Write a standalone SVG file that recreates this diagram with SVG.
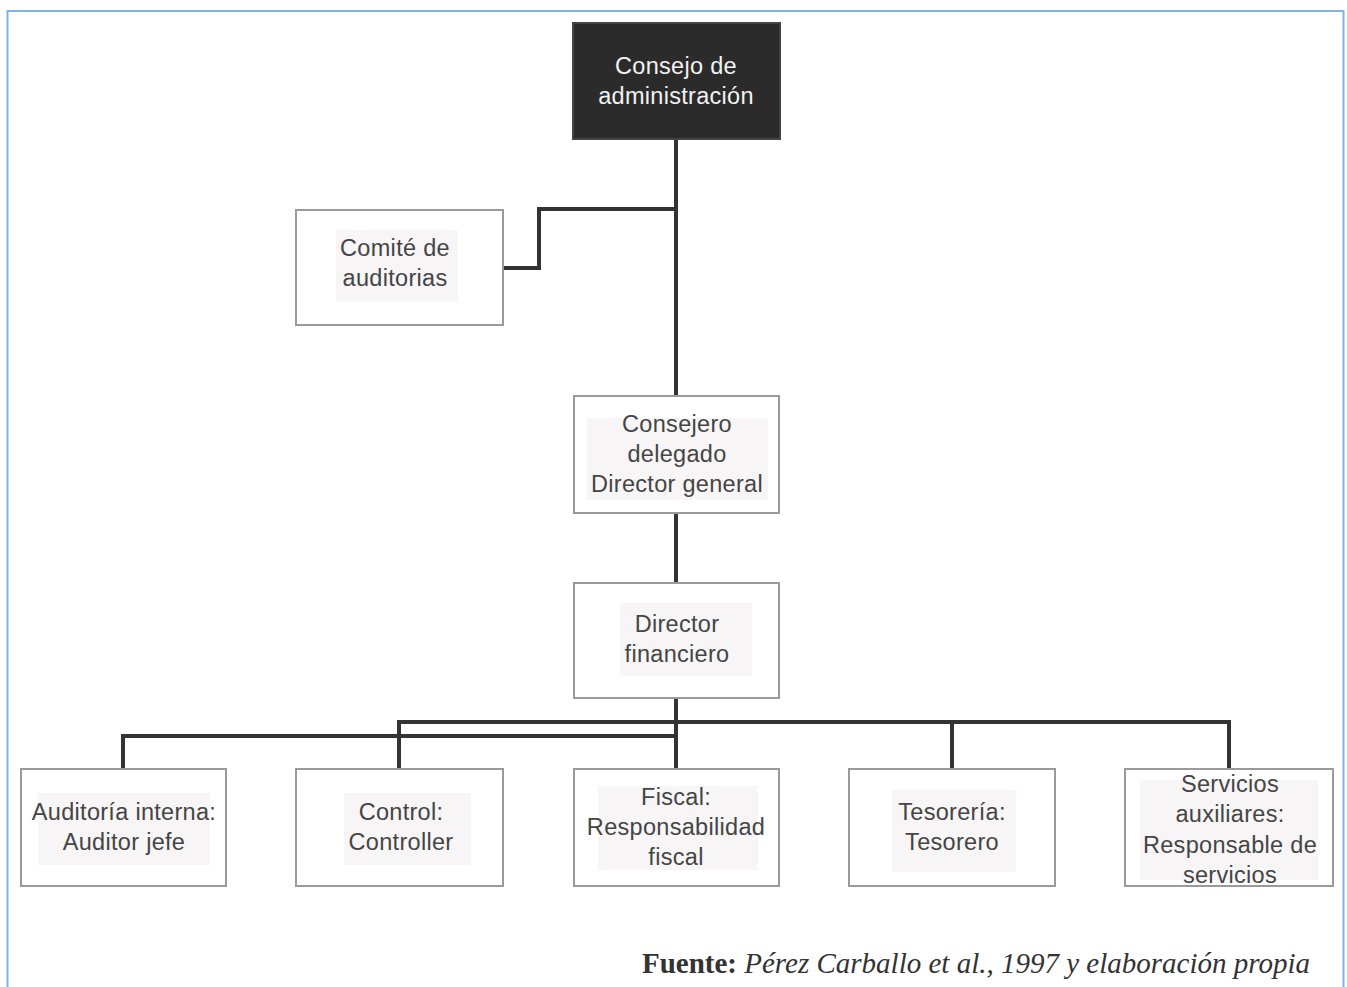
<svg xmlns="http://www.w3.org/2000/svg" width="1347" height="987" viewBox="0 0 1347 987">
<style>
.box{fill:#fff;stroke:#9a9a9a;stroke-width:2}
.dark{fill:#2b2b2b;stroke:#444;stroke-width:2}
.bg{fill:#f7f5f5}
.t{font-family:"Liberation Sans",Arial,sans-serif;font-size:23.5px;letter-spacing:0.3px;fill:#454545;text-anchor:middle}
.tw{font-family:"Liberation Sans",Arial,sans-serif;font-size:23.5px;letter-spacing:0.3px;fill:#f2f2f2;text-anchor:middle}
.c{fill:none;stroke:#333;stroke-width:4}
</style>
<rect x="0" y="0" width="1347" height="987" fill="#fff"/>
<rect x="7.5" y="11" width="1336" height="990" fill="none" stroke="#7fb2e5" stroke-width="2"/>
<g id="connectors">
<path class="c" d="M676 139V396"/>
<path class="c" d="M676 209H539V268H503"/>
<path class="c" d="M676 513V583"/>
<path class="c" d="M676 698V769"/>
<path class="c" d="M399 769V722H1229V769"/>
<path class="c" d="M952 722V769"/>
<path class="c" d="M123 769V736H676"/>
</g>
<g id="consejo">
<rect class="dark" x="573" y="23" width="207" height="116"/>
<text class="tw" x="676" y="74">Consejo de</text>
<text class="tw" x="676" y="104">administración</text>
</g>
<g id="comite">
<rect class="box" x="296" y="210" width="207" height="115"/>
<rect class="bg" x="336" y="230" width="122" height="72"/>
<text class="t" x="395" y="256">Comité de</text>
<text class="t" x="395" y="286">auditorias</text>
</g>
<g id="consejero">
<rect class="box" x="574" y="396" width="205" height="117"/>
<rect class="bg" x="587" y="418" width="181" height="82"/>
<text class="t" x="677" y="432">Consejero</text>
<text class="t" x="677" y="462">delegado</text>
<text class="t" x="677" y="492">Director general</text>
</g>
<g id="director-financiero">
<rect class="box" x="574" y="583" width="205" height="115"/>
<rect class="bg" x="620" y="603" width="132" height="73"/>
<text class="t" x="677" y="632">Director</text>
<text class="t" x="677" y="662">financiero</text>
</g>
<g id="auditoria">
<rect class="box" x="21" y="769" width="205" height="117"/>
<rect class="bg" x="38" y="793" width="172" height="72"/>
<text class="t" x="124" y="820">Auditoría interna:</text>
<text class="t" x="124" y="850">Auditor jefe</text>
</g>
<g id="control">
<rect class="box" x="296" y="769" width="207" height="117"/>
<rect class="bg" x="344" y="793" width="127" height="72"/>
<text class="t" x="401" y="820">Control:</text>
<text class="t" x="401" y="850">Controller</text>
</g>
<g id="fiscal">
<rect class="box" x="574" y="769" width="205" height="117"/>
<rect class="bg" x="598" y="786" width="160" height="84"/>
<text class="t" x="676" y="805">Fiscal:</text>
<text class="t" x="676" y="835">Responsabilidad</text>
<text class="t" x="676" y="865">fiscal</text>
</g>
<g id="tesoreria">
<rect class="box" x="849" y="769" width="206" height="117"/>
<rect class="bg" x="892" y="790" width="124" height="82"/>
<text class="t" x="952" y="820">Tesorería:</text>
<text class="t" x="952" y="850">Tesorero</text>
</g>
<g id="servicios">
<rect class="box" x="1125" y="769" width="208" height="117"/>
<rect class="bg" x="1140" y="780" width="178" height="100"/>
<text class="t" x="1230" y="792">Servicios</text>
<text class="t" x="1230" y="822">auxiliares:</text>
<text class="t" x="1230" y="853">Responsable de</text>
<text class="t" x="1230" y="883">servicios</text>
</g>
<text x="1310" y="973" text-anchor="end" font-family="'Liberation Serif','Times New Roman',serif" font-size="29" fill="#333"><tspan font-weight="bold">Fuente:</tspan><tspan font-style="italic"> Pérez Carballo et al., 1997 y elaboración propia</tspan></text>
</svg>
